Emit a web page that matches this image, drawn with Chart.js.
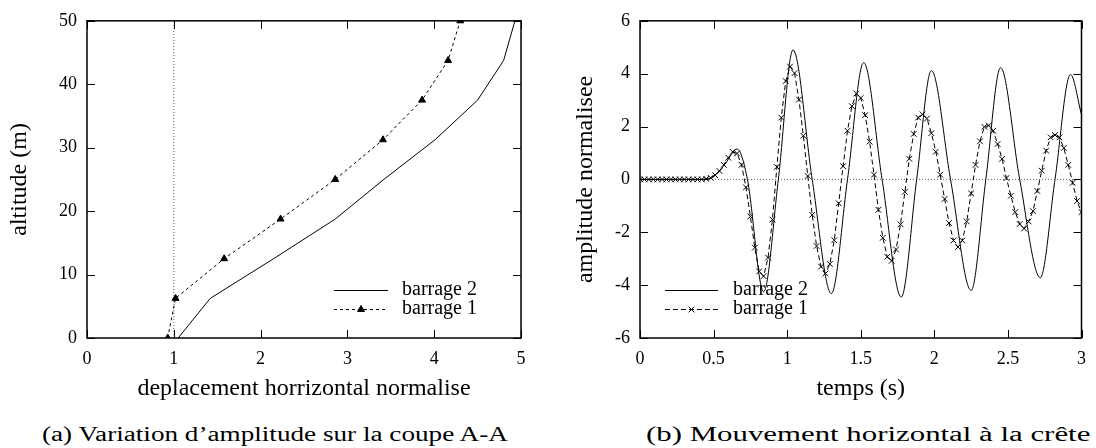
<!DOCTYPE html>
<html>
<head>
<meta charset="utf-8">
<script src="https://cdn.jsdelivr.net/npm/chart.js@4.4.1/dist/chart.umd.min.js"></script>
<style>
  body { margin: 0; background: #fff; width: 1096px; height: 448px; position: relative; overflow: hidden; }
  .box { position: absolute; top: 0; width: 548px; height: 410px; }
  #boxA { left: 0; }
  #boxB { left: 548px; }
  .cap { position: absolute; top: 423px; font-family: "Liberation Serif", serif; font-size: 20px; white-space: nowrap; color: #000; transform-origin: 0 50%; }
</style>
</head>
<body>
<div class="box" id="boxA"><canvas id="chartA"></canvas></div>
<div class="box" id="boxB"><canvas id="chartB"></canvas></div>
<div class="cap" id="capA">(a) Variation d’amplitude sur la coupe A-A</div>
<div class="cap" id="capB">(b) Mouvement horizontal à la crête</div>
<script>
// (a) profil d'amplitude le long de la coupe A-A
const altitudes = [0, 6.25, 12.5, 18.75, 25, 31.25, 37.5, 43.75, 50];
const deplBarrage2 = [1.05, 1.42, 2.15, 2.86, 3.42, 4.01, 4.5, 4.8, 4.93];
const deplBarrage1 = [0.93, 1.02, 1.58, 2.23, 2.86, 3.41, 3.86, 4.16, 4.3];
const refDepl = [1, 1];
const refAlt = [0, 50];

// (b) mouvement horizontal a la crete
const tempsB2 = [0, 0.45, 0.52, 0.58, 0.66, 0.73, 0.84, 0.94, 1.04, 1.17, 1.30, 1.41, 1.52, 1.645, 1.775, 1.88, 1.98, 2.11, 2.25, 2.35, 2.45, 2.58, 2.72, 2.82, 2.925, 3.0];
const amplB2 = [0, 0, 0.2, 0.6, 1.15, 0, -4.25, 0, 4.9, 0, -4.32, 0, 4.42, 0, -4.45, 0, 4.12, 0, -4.2, 0, 4.23, 0, -3.72, 0, 3.97, 2.45];
const tempsB1 = [0, 0.03, 0.06, 0.09, 0.12, 0.15, 0.18, 0.21, 0.24, 0.27, 0.3, 0.33, 0.36, 0.39, 0.42, 0.45, 0.48, 0.51, 0.54, 0.57,
  0.6, 0.63, 0.66, 0.69, 0.72, 0.75, 0.78, 0.81, 0.84, 0.87, 0.9, 0.93, 0.96, 0.99, 1.02, 1.05, 1.08, 1.11, 1.14, 1.17,
  1.2, 1.23, 1.26, 1.29, 1.32, 1.35, 1.38, 1.41, 1.44, 1.47, 1.5, 1.53, 1.56, 1.59, 1.62, 1.65, 1.68, 1.71, 1.74, 1.77,
  1.8, 1.83, 1.86, 1.89, 1.92, 1.95, 1.98, 2.01, 2.04, 2.07, 2.1, 2.13, 2.16, 2.19, 2.22, 2.25, 2.28, 2.31, 2.34, 2.37,
  2.4, 2.43, 2.46, 2.49, 2.52, 2.55, 2.58, 2.61, 2.64, 2.67, 2.7, 2.73, 2.76, 2.79, 2.82, 2.85, 2.88, 2.91, 2.94, 2.97, 3.0];
const amplB1 = [0, 0, 0, 0, 0, 0, 0, 0, 0, 0, 0, 0, 0, 0, 0, 0.02, 0.06, 0.16, 0.32, 0.55,
  0.82, 1.04, 0.98, 0.55, -0.3, -1.4, -2.58, -3.48, -3.66, -2.96, -1.52, 0.47, 2.34, 3.72, 4.27, 4.02, 3.02, 1.65, 0.13, -1.34,
  -2.52, -3.3, -3.56, -3.2, -2.3, -0.9, 0.5, 1.84, 2.77, 3.25, 3.08, 2.43, 1.43, 0.18, -1.15, -2.21, -2.93, -3.08, -2.65, -1.7,
  -0.47, 0.78, 1.72, 2.34, 2.46, 2.3, 1.75, 1.05, 0.18, -0.74, -1.65, -2.31, -2.56, -2.31, -1.59, -0.53, 0.55, 1.44, 1.99, 2.04,
  1.84, 1.34, 0.78, 0.05, -0.62, -1.24, -1.69, -1.86, -1.59, -1.2, -0.44, 0.33, 1.09, 1.59, 1.68, 1.59, 1.19, 0.55, -0.13, -0.82, -1.24];
const refTemps = [0, 3];
const refAmpl = [0, 0];

const SERIF = "'Liberation Serif', 'Times New Roman', serif";

function pts(xs, ys) { return xs.map((x, i) => ({ x: x, y: ys[i] })); }

// cadre + graduations vers l'interieur (style gnuplot)
const cadre = {
  id: 'cadre',
  afterDatasetsDraw(chart) {
    const { ctx, chartArea: a, scales } = chart;
    const L = 8;
    ctx.save();
    ctx.strokeStyle = '#000';
    ctx.lineWidth = 1;
    ctx.beginPath();
    scales.x.ticks.forEach(t => {
      const px = Math.round(scales.x.getPixelForValue(t.value)) + 0.5;
      ctx.moveTo(px, a.bottom); ctx.lineTo(px, a.bottom - L);
      ctx.moveTo(px, a.top); ctx.lineTo(px, a.top + L);
    });
    scales.y.ticks.forEach(t => {
      const py = Math.round(scales.y.getPixelForValue(t.value)) + 0.5;
      ctx.moveTo(a.left, py); ctx.lineTo(a.left + L, py);
      ctx.moveTo(a.right, py); ctx.lineTo(a.right - L, py);
    });
    ctx.stroke();
    ctx.lineWidth = 1.5;
    ctx.strokeRect(a.left, a.top, a.right - a.left, a.bottom - a.top);
    ctx.restore();
  }
};

// legende placee dans le graphe
const legende = {
  id: 'legende',
  afterDraw(chart, args, opts) {
    const { ctx } = chart;
    ctx.save();
    ctx.font = "20px " + SERIF;
    ctx.textBaseline = 'middle';
    ctx.fillStyle = '#000';
    let y = opts.y;
    chart.data.datasets.forEach(ds => {
      if (!ds.label) return;
      ctx.strokeStyle = '#000';
      ctx.lineWidth = 1;
      ctx.setLineDash(ds.borderDash || []);
      ctx.beginPath();
      ctx.moveTo(opts.x0, y + 0.5); ctx.lineTo(opts.x1, y + 0.5);
      ctx.stroke();
      ctx.setLineDash([]);
      if (ds.pointRadius > 0) {
        Chart.helpers.drawPoint(ctx, {
          pointStyle: ds.pointStyle, radius: ds.pointRadius, borderWidth: 1, rotation: 0
        }, (opts.x0 + opts.x1) / 2, y + 0.5);
        if (ds.pointStyle === 'triangle') ctx.fill();
      }
      ctx.fillText(ds.label, opts.tx, y);
      y += opts.dy;
    });
    ctx.restore();
  }
};

function axe(min, max, step, titre, titrePad, largeur, pos) {
  return {
    type: 'linear', position: pos, min: min, max: max,
    grid: { display: false, drawTicks: false },
    border: { display: false },
    ticks: {
      stepSize: step, color: '#000', padding: 10,
      font: { family: SERIF, size: 18 }, maxRotation: 0, autoSkip: false,
      callback: v => String(v)
    },
    title: {
      display: true, text: titre, color: '#000',
      font: { family: SERIF, size: 24 }, padding: titrePad
    },
    afterFit(s) { if (pos === 'left') s.width = largeur; else s.height = largeur; }
  };
}

new Chart(document.getElementById('chartA'), {
  type: 'scatter',
  data: {
    datasets: [
      { label: 'barrage 2', data: pts(deplBarrage2, altitudes), showLine: true, borderColor: '#000', borderWidth: 1,
        pointRadius: 0, pointStyle: false },
      { label: 'barrage 1', data: pts(deplBarrage1, altitudes), showLine: true, borderColor: '#000', borderWidth: 1,
        borderDash: [3, 3], pointStyle: 'triangle', pointRadius: 4, backgroundColor: '#000', pointBorderColor: '#000' },
      { label: '', data: pts(refDepl, refAlt), showLine: true, borderColor: '#666', borderWidth: 1,
        borderDash: [1, 2], pointRadius: 0 }
    ]
  },
  options: {
    responsive: true, maintainAspectRatio: false, animation: false,
    layout: { padding: { left: 0, top: 17, right: 27, bottom: 0 } },
    scales: {
      x: axe(0, 5, 1, 'deplacement horrizontal normalise', { top: 0, bottom: 7 }, 72, 'bottom'),
      y: axe(0, 50, 10, 'altitude (m)', { top: 5, bottom: 0 }, 87, 'left')
    },
    plugins: {
      legend: { display: false }, tooltip: { enabled: false },
      legende: { x0: 334, x1: 388, tx: 402, y: 290, dy: 19 }
    }
  },
  plugins: [cadre, legende]
});

new Chart(document.getElementById('chartB'), {
  type: 'scatter',
  data: {
    datasets: [
      { label: 'barrage 2', data: pts(tempsB2, amplB2), showLine: true, borderColor: '#000', borderWidth: 1,
        pointRadius: 0, cubicInterpolationMode: 'monotone' },
      { label: 'barrage 1', data: pts(tempsB1, amplB1), showLine: true, borderColor: '#000', borderWidth: 1,
        borderDash: [5, 3], pointStyle: 'crossRot', pointRadius: 4, pointBorderColor: '#000', pointBorderWidth: 1 },
      { label: '', data: pts(refTemps, refAmpl), showLine: true, borderColor: '#666', borderWidth: 1,
        borderDash: [1, 2], pointRadius: 0 }
    ]
  },
  options: {
    responsive: true, maintainAspectRatio: false, animation: false,
    layout: { padding: { left: 0, top: 17, right: 10, bottom: 0 } },
    scales: {
      x: axe(0, 3, 0.5, 'temps (s)', { top: 0, bottom: 7 }, 72, 'bottom'),
      y: axe(-6, 6, 2, 'amplitude normalisee', { top: 23, bottom: 0 }, 92, 'left')
    },
    plugins: {
      legend: { display: false }, tooltip: { enabled: false },
      legende: { x0: 117, x1: 170, tx: 185, y: 290, dy: 19 }
    }
  },
  plugins: [cadre, legende]
});

function placer(id, gauche, largeur) {
  const el = document.getElementById(id);
  el.style.left = gauche + 'px';
  el.style.transform = 'scaleX(' + (largeur / el.offsetWidth) + ')';
}
placer('capA', 42, 466);
placer('capB', 646, 444);
</script>
</body>
</html>
